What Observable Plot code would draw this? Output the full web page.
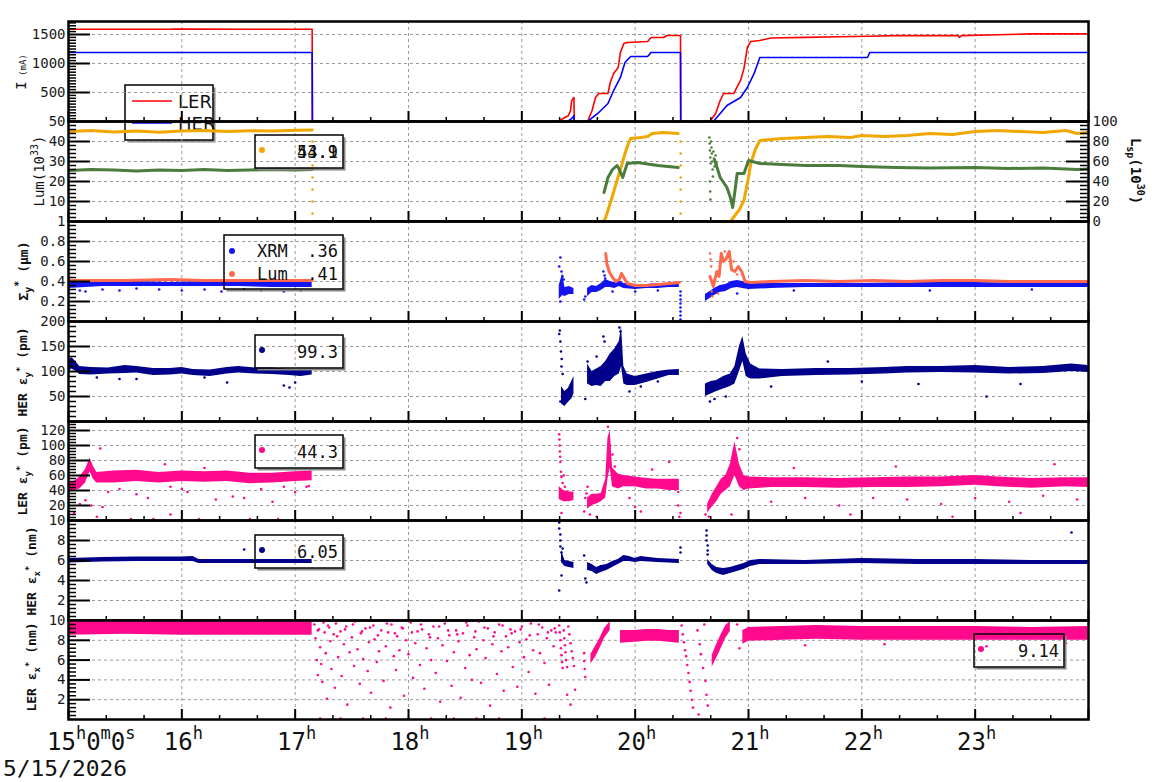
<!DOCTYPE html>
<html><head><meta charset="utf-8">
<script src="https://cdn.jsdelivr.net/npm/d3@7"></script>
<script src="https://cdn.jsdelivr.net/npm/@observablehq/plot@0.6"></script>
<style>
body{margin:0;background:#fff;}
#chart{position:relative;width:1160px;height:782px;overflow:hidden;font-family:"DejaVu Sans Mono",monospace;background:#fff;}
#chart svg{position:absolute;left:0;overflow:visible;}
</style></head><body><div id="chart"></div>
<script>
// ---------- axis ticks ----------
const hourTicks = [15,16,17,18,19,20,21,22,23,24];
const hourLabels = [16,17,18,19,20,21,22,23];
const iTicks = [500,1000,1500];
const lumTicks = [10,20,30,40,50];
const lspTicks = [0,20,40,60,80,100];
const sigTicks = [0.2,0.4,0.6,0.8,1];
const herEyTicks = [50,100,150,200];
const lerEyTicks = [20,40,60,80,100,120];
const exTicks = [2,4,6,8,10];

// ---------- panel 1: beam currents (mA) ----------
const lerCurrent = [[15,1590],[15.9,1590],[15.92,1595],[16.0,1592],[17.15,1590],[17.152,0],[19.32,0],[19.38,70],[19.41,100],[19.43,190],[19.44,360],[19.46,414],[19.462,0],[19.58,0],[19.62,190],[19.65,414],[19.68,483],[19.76,483],[19.78,672],[19.81,828],[19.85,931],[19.87,1190],[19.90,1345],[19.93,1362],[20.11,1380],[20.14,1448],[20.25,1448],[20.28,1483],[20.38,1483],[20.40,1483],[20.402,0],[20.66,0],[20.71,138],[20.75,362],[20.78,483],[20.87,483],[20.93,707],[20.96,914],[20.99,1276],[21.02,1380],[21.1,1397],[21.2,1440],[21.5,1450],[21.8,1460],[22.05,1470],[22.3,1480],[22.85,1480],[22.86,1450],[22.88,1480],[23.2,1495],[23.5,1510],[24,1510]];
const herCurrent = [[15,1190],[17.15,1190],[17.152,0],[19.40,0],[19.44,50],[19.46,100],[19.462,0],[19.58,0],[19.67,138],[19.76,310],[19.81,534],[19.87,759],[19.91,1017],[19.96,1120],[20.11,1120],[20.14,1190],[20.40,1190],[20.402,0],[20.69,0],[20.81,276],[20.93,414],[20.99,586],[21.05,828],[21.1,1103],[22.05,1103],[22.07,1190],[24,1190]];

// ---------- panel 2: luminosity ----------
const lumSegs = [
 [[15,45],[15.2,45.5],[15.4,44.8],[15.6,45.2],[15.8,44.6],[16.0,45.3],[16.2,45.5],[16.4,45],[16.6,45.4],[16.8,45.2],[17.0,45.6],[17.15,45.8]],
 [[17.155,0],[19.72,0],[19.74,2],[19.79,11],[19.84,20.5],[19.88,28],[19.91,34],[19.94,39],[19.96,41.5],[20.05,42],[20.11,42.5],[20.15,44],[20.25,44.5],[20.38,44]],
 [[20.405,0],[20.84,0],[20.86,1.5],[20.92,6],[20.96,10.5],[21.0,22],[21.02,29],[21.06,36],[21.1,40.5],[21.3,41.5],[21.5,42],[21.7,42.5],[21.9,42],[22.0,43],[22.2,42.5],[22.4,43],[22.6,44],[22.8,43.5],[23.0,45],[23.2,45.5],[23.4,45],[23.6,44.5],[23.8,45.5],[23.9,44],[24,44.5]]
];
const lumDrops = [[17.153,40],[17.153,34],[17.153,28],[17.153,22],[17.153,16],[17.153,10],[17.153,4],[20.402,40],[20.402,34],[20.402,28],[20.402,22],[20.402,16],[20.402,10],[20.402,4]];
const lspSegs = [
 [[15,51],[15.2,52],[15.4,51.5],[15.6,50.5],[15.8,51.5],[16.0,51],[16.2,52],[16.4,51],[16.6,51.5],[16.8,52],[17.0,51.5],[17.15,52]],
 [[17.155,0],[19.72,0]],
 [[19.725,29],[19.76,44],[19.80,52],[19.84,56],[19.86,52],[19.89,44],[19.93,58],[20.02,59],[20.2,56],[20.38,54]],
 [[20.405,0],[20.65,0]],
 [[20.70,62],[20.75,44],[20.81,34],[20.84,24],[20.86,14],[20.88,30],[20.90,48],[20.96,48],[21.0,61],[21.1,58],[21.3,57],[21.5,56],[21.8,56],[22.0,55],[22.3,54],[22.6,53.5],[23.0,54],[23.3,53],[23.6,53.5],[23.9,52],[24,52.5]]
];
const lspDots = [[20.655,84],[20.658,78],[20.66,71],[20.663,64],[20.666,58],[20.67,80],[20.673,74],[20.676,68],[20.68,60],[20.683,52],[20.686,45],[20.69,70],[20.695,63],[20.70,55],[20.66,40],[20.662,30],[20.664,22],[20.71,66],[20.72,58]];

// ---------- panel 3: vertical beam size ----------
const sigLumSegs = [
 [[15,0.41],[15.5,0.41],[15.9,0.42],[16.2,0.41],[16.6,0.41],[17.15,0.41]],
 [[19.74,0.68],[19.75,0.58],[19.77,0.50],[19.80,0.44],[19.83,0.40],[19.86,0.42],[19.88,0.48],[19.90,0.44],[19.93,0.38],[20.0,0.36],[20.1,0.36],[20.2,0.37],[20.3,0.38],[20.39,0.39]],
 [[20.66,0.45],[20.69,0.35],[20.72,0.50],[20.74,0.45],[20.76,0.68],[20.78,0.60],[20.80,0.62],[20.83,0.70],[20.85,0.52],[20.88,0.50],[20.91,0.55],[20.94,0.50],[20.97,0.40],[21.02,0.39],[21.2,0.40],[21.5,0.41],[21.8,0.40],[22.1,0.41],[22.4,0.40],[22.7,0.41],[23.0,0.41],[23.3,0.40],[23.6,0.40],[24,0.40]]
];
const sigLumDots = [[20.66,0.68],[20.665,0.62],[20.67,0.55],[20.675,0.30],[20.68,0.25],[20.70,0.42],[20.73,0.28],[20.75,0.58],[20.79,0.70],[20.82,0.66],[20.87,0.60],[20.90,0.47],[17.15,0.0],[20.40,0.0]];
const xrmBand = [
 [[15.0,0.33,0.39],[15.3,0.35,0.39],[15.6,0.35,0.40],[15.9,0.35,0.39],[16.2,0.35,0.40],[16.5,0.35,0.39],[16.8,0.34,0.39],[17.15,0.34,0.39]],
 [[19.33,0.22,0.36],[19.36,0.26,0.48],[19.38,0.25,0.34],[19.42,0.27,0.35],[19.46,0.27,0.33]],
 [[19.58,0.25,0.33],[19.62,0.29,0.36],[19.66,0.29,0.35],[19.70,0.31,0.38],[19.74,0.34,0.42],[19.78,0.34,0.40],[19.82,0.33,0.39],[19.86,0.35,0.41],[19.90,0.33,0.38],[20.0,0.32,0.37],[20.1,0.33,0.37],[20.2,0.33,0.38],[20.3,0.34,0.38],[20.39,0.34,0.38]],
 [[20.62,0.20,0.27],[20.66,0.23,0.30],[20.70,0.26,0.33],[20.75,0.29,0.36],[20.80,0.30,0.37],[20.85,0.33,0.40],[20.90,0.34,0.41],[20.95,0.33,0.40],[21.0,0.32,0.38],[21.2,0.33,0.38],[21.5,0.34,0.38],[22.0,0.34,0.38],[22.5,0.34,0.39],[23.0,0.34,0.39],[23.5,0.34,0.38],[24,0.34,0.38]]
];
const xrmDots = [[15.1,0.31],[15.15,0.30],[15.3,0.32],[15.45,0.31],[15.6,0.33],[15.8,0.32],[16.0,0.31],[16.2,0.32],[16.35,0.30],[16.55,0.32],[16.7,0.31],[16.9,0.30],[17.05,0.31],[15.0,0.30],[19.33,0.55],[19.34,0.64],[19.35,0.50],[19.36,0.45],[19.37,0.42],[19.34,0.2],[19.55,0.22],[19.56,0.25],[19.72,0.50],[19.73,0.46],[19.735,0.43],[19.80,0.30],[20.0,0.30],[20.2,0.31],[20.40,0.30],[20.40,0.26],[20.40,0.22],[20.40,0.18],[20.40,0.14],[20.40,0.10],[20.40,0.06],[20.40,0.02],[20.9,0.28],[21.4,0.31],[22.6,0.31],[23.5,0.32]];

// ---------- panel 4: HER vertical emittance (pm) ----------
const herEyBand = [
 [[15.0,100,122],[15.03,105,128],[15.07,100,118],[15.1,94,110],[15.2,93,108],[15.35,95,107],[15.5,96,112],[15.6,97,110],[15.75,92,106],[15.9,93,106],[16.0,95,108],[16.1,92,104],[16.25,90,103],[16.4,95,108],[16.5,97,110],[16.65,95,107],[16.8,94,107],[16.95,92,104],[17.05,90,103],[17.15,93,103]],
 [[19.35,35,70],[19.38,30,60],[19.41,38,66],[19.44,45,80],[19.46,55,90]],
 [[19.58,75,115],[19.62,70,100],[19.66,72,105],[19.70,70,110],[19.74,80,120],[19.78,80,135],[19.82,90,145],[19.86,95,160],[19.88,110,190],[19.90,75,110],[19.93,72,95],[20.0,72,90],[20.1,78,95],[20.2,85,100],[20.3,92,103],[20.39,92,104]],
 [[20.62,50,75],[20.67,55,80],[20.72,60,82],[20.78,65,90],[20.84,70,95],[20.88,75,110],[20.92,100,150],[20.95,120,170],[20.98,90,135],[21.02,85,115],[21.1,85,105],[21.3,90,104],[21.6,92,106],[21.9,93,106],[22.2,95,108],[22.4,97,110],[22.7,98,110],[23.0,97,112],[23.3,95,108],[23.6,96,110],[23.85,100,115],[24,98,112]]
];
const herEyDots = [[15.6,85],[16.4,78],[16.9,72],[16.95,68],[17.0,78],[15.45,85],[16.2,88],[15.25,88],[19.33,175],[19.335,182],[19.34,160],[19.345,140],[19.35,110],[19.352,125],[19.36,95],[19.34,40],[19.56,45],[19.58,120],[19.72,170],[19.73,160],[19.86,188],[19.87,180],[19.66,130],[19.95,60],[20.05,70],[20.2,80],[21.2,70],[22.0,80],[22.5,75],[23.1,50],[23.4,75],[21.7,120],[20.66,40],[20.7,45],[20.8,50]];

// ---------- panel 5: LER vertical emittance (pm) ----------
const lerEyBand = [
 [[15.0,38,50],[15.05,40,52],[15.1,42,58],[15.15,50,68],[15.19,65,83],[15.22,55,72],[15.25,50,64],[15.4,50,66],[15.6,52,67],[15.8,50,64],[16.0,52,66],[16.2,51,65],[16.4,52,66],[16.6,49,63],[16.8,50,63],[17.0,52,65],[17.15,53,66]],
 [[19.33,28,45],[19.37,25,40],[19.42,25,38],[19.46,27,38]],
 [[19.58,15,30],[19.62,20,35],[19.66,22,35],[19.70,25,36],[19.74,30,55],[19.76,55,110],[19.78,70,120],[19.80,45,70],[19.85,42,62],[19.90,45,60],[20.0,45,58],[20.1,42,56],[20.2,42,55],[20.3,40,55],[20.39,40,55]],
 [[20.64,10,22],[20.68,18,35],[20.72,25,45],[20.76,35,55],[20.80,40,60],[20.84,45,75],[20.88,60,105],[20.92,45,75],[20.96,40,60],[21.0,42,58],[21.2,44,57],[21.5,44,57],[21.8,43,56],[22.1,44,57],[22.4,44,58],[22.7,45,58],[23.0,47,60],[23.2,45,58],[23.5,43,56],[23.8,45,57],[24,44,57]]
];
const lerEyDots = [[15.05,10],[15.1,22],[15.15,27],[15.2,20],[15.28,96],[15.3,18],[15.25,5],[15.35,38],[15.45,42],[15.6,35],[15.7,30],[15.85,75],[15.9,45],[16.0,42],[16.05,38],[16.2,70],[16.3,28],[16.45,32],[16.55,30],[16.7,42],[16.8,25],[16.9,45],[17.0,38],[17.1,45],[17.12,46],[15.55,2],[15.75,2],[16.15,2],[16.6,2],[16.85,2],[17.0,2],[15.9,8],
 [19.33,115],[19.332,108],[19.334,100],[19.336,92],[19.338,85],[19.34,78],[19.345,65],[19.35,58],[19.36,50],[19.37,60],[19.38,45],[19.35,10],[19.55,12],[19.56,30],[19.57,36],[19.58,45],[19.60,8],[19.66,5],[19.76,125],[19.78,100],[19.80,88],[19.82,72],[19.83,60],[19.95,30],[20.0,18],[20.05,12],[20.15,68],[20.3,78],[20.38,38],[20.38,20],[20.40,10],[20.39,5],
 [20.62,8],[20.65,5],[20.90,110],[20.92,95],[20.85,8],[21.2,25],[21.5,30],[21.8,20],[22.1,30],[22.4,28],[22.7,22],[23.0,30],[23.3,25],[23.6,33],[23.9,28],[21.4,70],[22.3,72],[23.7,75],[21.9,8],[22.8,5],[23.4,10]];

// ---------- panel 6: HER horizontal emittance (nm) ----------
const herExBand = [
 [[15,5.75,6.2],[15.3,5.85,6.3],[15.6,5.9,6.35],[16.0,5.9,6.35],[16.1,5.9,6.4],[16.15,5.7,6.1],[16.5,5.7,6.1],[17.15,5.7,6.1]],
 [[19.35,5.8,7.0],[19.38,5.4,6.0],[19.42,5.3,5.9],[19.46,5.2,5.8]],
 [[19.58,5.0,5.8],[19.62,4.9,5.6],[19.66,4.6,5.3],[19.70,4.8,5.5],[19.75,5.0,5.6],[19.80,5.3,5.9],[19.85,5.6,6.1],[19.90,5.9,6.5],[19.95,5.9,6.4],[20.0,5.8,6.2],[20.05,5.9,6.4],[20.2,5.8,6.2],[20.39,5.7,6.1]],
 [[20.64,5.6,6.1],[20.68,5.0,5.6],[20.72,4.7,5.3],[20.78,4.5,5.2],[20.84,4.7,5.3],[20.9,4.9,5.5],[20.96,5.1,5.7],[21.02,5.4,6.0],[21.1,5.6,6.1],[21.5,5.6,6.0],[22.0,5.7,6.2],[22.5,5.6,6.1],[23.0,5.6,6.1],[23.5,5.6,6.0],[24,5.6,6.0]]
];
const herExDots = [[19.33,9.8],[19.33,9.2],[19.34,8.6],[19.34,8.0],[19.34,7.4],[19.35,6.8],[19.36,7.2],[19.35,4.5],[19.33,3.0],[19.55,6.5],[19.56,4.2],[19.57,3.8],[20.40,6.8],[20.40,7.3],[20.63,9.0],[20.63,8.5],[20.63,8.0],[20.64,7.5],[20.64,7.0],[20.64,6.6],[16.55,7.1],[23.85,8.8]];

// ---------- panel 7: LER horizontal emittance (nm) ----------
const lerExBand = [
 [[15,8.5,9.9],[15.5,8.6,9.9],[16,8.5,9.9],[16.5,8.5,9.85],[17.15,8.5,9.85]],
 [[19.61,5.6,6.6],[19.65,6.3,7.4],[19.69,7.2,8.2],[19.73,8.2,9.2],[19.78,9.0,9.9]],
 [[19.87,7.7,9.0],[20.0,7.8,9.0],[20.1,7.9,9.1],[20.2,7.9,9.1],[20.3,7.8,9.0],[20.39,7.7,9.0]],
 [[20.68,5.3,6.5],[20.72,6.2,7.6],[20.76,7.2,8.6],[20.80,8.2,9.5],[20.84,8.9,9.9]],
 [[20.95,7.6,9.0],[21.0,7.9,9.3],[21.3,8.0,9.4],[21.6,8.1,9.5],[22.0,8.0,9.4],[22.5,8.0,9.4],[23.0,8.0,9.4],[23.5,8.0,9.3],[24,8.0,9.4]]
];
const lerExDots = [[17.17,9.6],[17.18,8.2],[17.19,6.0],[17.2,4.5],[17.21,9.1],[17.22,7.3],[17.23,5.6],[17.24,3.8],[17.25,9.8],[17.26,8.8],[17.27,6.7],[17.28,2.1],[17.3,9.3],[17.31,7.9],[17.32,5.1],[17.34,8.6],[17.35,3.2],[17.36,9.7],[17.38,6.3],[17.4,8.9],[17.41,4.4],[17.43,7.6],[17.45,9.4],[17.46,1.5],[17.48,6.8],[17.5,8.3],[17.52,5.4],[17.53,9.9],[17.55,7.1],[17.57,3.6],[17.58,8.7],[17.6,6.1],[17.62,9.2],[17.64,4.9],[17.65,7.8],[17.67,2.7],[17.69,9.5],[17.7,8.1],[17.72,5.8],[17.74,6.9],[17.76,9.0],[17.78,3.9],[17.8,7.4],[17.82,8.8],[17.84,1.2],[17.85,9.6],[17.87,6.4],[17.89,5.0],[17.9,8.4],[17.92,7.0],[17.94,9.3],[17.96,2.4],[17.98,8.0],[18.0,6.6],[18.02,9.8],[18.04,4.2],[18.06,7.7],[18.08,8.9],[18.1,5.5],[18.12,9.1],[18.14,3.1],[18.16,7.2],[18.18,8.6],[18.2,6.0],[18.22,9.4],[18.24,4.7],[18.26,8.2],[18.28,1.8],[18.3,7.5],[18.32,9.7],[18.34,5.9],[18.36,8.5],[18.38,3.4],[18.4,6.8],[18.42,9.0],[18.44,7.9],[18.46,2.2],[18.48,8.7],[18.5,5.2],[18.52,9.5],[18.54,6.5],[18.56,4.0],[18.58,8.3],[18.6,7.1],[18.62,9.9],[18.64,3.7],[18.66,8.0],[18.68,6.2],[18.7,9.2],[18.72,1.4],[18.74,7.6],[18.76,8.8],[18.78,4.6],[18.8,9.6],[18.82,6.9],[18.84,2.9],[18.86,8.4],[18.88,7.3],[18.9,9.1],[18.92,5.3],[18.94,8.9],[18.96,3.3],[18.98,7.8],[19.0,9.4],[19.02,6.3],[19.04,8.1],[19.06,4.8],[19.08,9.7],[19.1,7.0],[19.12,2.6],[19.14,8.6],[19.16,6.7],[19.18,9.3],[19.2,5.7],[19.22,8.2],[19.24,3.5],[19.26,9.0],[19.28,7.4],[19.3,8.8],
 [17.2,9.0],[17.29,9.5],[17.37,8.4],[17.44,9.1],[17.51,9.6],[17.59,8.9],[17.66,9.3],[17.73,8.5],[17.81,9.7],[17.88,8.7],[17.95,9.2],[18.03,8.8],[18.11,9.6],[18.19,8.3],[18.27,9.4],[18.35,9.0],[18.43,8.6],[18.51,9.8],[18.59,8.9],[18.67,9.3],[18.75,8.4],[18.83,9.5],[18.91,8.7],[18.99,9.1],[19.07,8.5],[19.15,9.6],[19.23,8.8],[19.29,9.2],
 [17.22,0.1],[17.4,0.1],[17.6,0.1],[17.8,0.1],[18.0,0.1],[18.2,0.1],[18.4,0.1],[18.6,0.1],[18.8,0.1],[19.0,0.1],[19.2,0.1],
 [19.33,9.5],[19.335,8.8],[19.34,8.0],[19.345,7.2],[19.35,6.5],[19.355,5.8],[19.36,5.2],[19.37,9.0],[19.375,8.2],[19.38,7.5],[19.385,6.8],[19.39,6.0],[19.4,5.3],[19.41,9.4],[19.42,8.6],[19.43,7.7],[19.44,6.9],[19.45,6.2],[19.46,5.4],[19.40,2.5],[19.43,1.5],[19.47,3.0],[19.55,6.7],[19.55,5.9],[19.555,5.1],[19.56,4.3],
 [20.41,9.5],[20.42,8.6],[20.43,7.8],[20.44,7.0],[20.45,6.4],[20.46,5.5],[20.47,4.7],[20.48,3.8],[20.49,2.9],[20.5,2.0],[20.51,1.2],[20.55,9.0],[20.57,7.6],[20.58,6.6],[20.6,5.2],[20.62,3.9],[20.63,2.5],[20.64,1.4],[20.56,0.5],[20.61,9.6],[20.9,9.6],[20.92,7.2],[21.5,7.5],[22.2,7.6],[23.1,7.4],[23.8,7.7]];

// ---------- legend values ----------
const legendI = ["LER","HER"];
const legendLum = ["53.9","44.1"];
const legendSig = [["XRM",".36"],["Lum",".41"]];
const legendHerEy = "99.3", legendLerEy = "44.3", legendHerEx = "6.05", legendLerEx = "9.14";

// ---------- colours ----------
const C = {red:"#ff0000", blue:"#0000ff", yellow:"#f0a800", green:"#4a7d3c", tomato:"#ff6a4d", xrm:"#1414f0", navy:"#00008a", pink:"#ff0a8c"};

// ---------- helpers ----------
const W = 1020;
function segRows(segs){const out=[];segs.forEach((s,i)=>s.forEach(r=>out.push({seg:i,h:r[0],a:r[1],b:r[2]})));return out;}
function bandMarks(segs,color){return [Plot.areaY(segRows(segs),{x:"h",y1:"a",y2:"b",z:"seg",fill:color,clip:true})];}
function lineMarks(segs,color,sw,f){return Plot.line(segRows(segs),{x:"h",y:f?(d=>f(d.a)):"a",z:"seg",stroke:color,strokeWidth:sw,clip:true});}
function dotMarks(arr,color,f){return Plot.dot(arr,{x:d=>d[0],y:f?(d=>f(d[1])):(d=>d[1]),r:1.3,fill:color,clip:true});}
function minorOf(max,step,majorStep){const out=[];for(let i=0;i*step<=max+1e-9;i++){const v=+(i*step).toFixed(4);if(Math.abs(v/majorStep-Math.round(v/majorStep))>1e-6)out.push(v);}return out;}
function minorX(){const out=[];for(let i=0;i<=27;i++){if(i%3)out.push(15+i/3);}return out;}

const chart = document.getElementById("chart");
const under = d3.select(chart).append("svg").attr("width",1160).attr("height",782).style("top","0px");

function panel(cfg){
  const h = cfg.bottom-cfg.top;
  const marks = [
    Plot.gridY(cfg.grid,{stroke:"#9a9a9a",strokeOpacity:1,strokeDasharray:"3,3"}),
    Plot.gridX(hourLabels,{stroke:"#9a9a9a",strokeOpacity:1,strokeDasharray:"3,3"}),
    ...cfg.marks,
    Plot.tickY(cfg.major,{y:d=>d,insetRight:W-22,stroke:"black",strokeWidth:2}),
    Plot.tickY(cfg.minor,{y:d=>d,insetRight:W-8,stroke:"black",strokeWidth:1.5}),
    Plot.tickX(hourTicks,{x:d=>d,insetTop:h-10,stroke:"black",strokeWidth:2}),
    Plot.tickX(minorX(),{x:d=>d,insetTop:h-4,stroke:"black",strokeWidth:1.5}),
    ...(cfg.extra||[]),
    Plot.frame({stroke:"black",strokeWidth:2.5}),
    Plot.axisY(cfg.labels,{tickSize:0,tickPadding:3,fontSize:14,fontFamily:"DejaVu Sans Mono",fill:"#1a1a1a",tickFormat:cfg.fmt,label:null})
  ];
  const p = Plot.plot({width:1160,height:h,marginLeft:68,marginRight:72,marginTop:0,marginBottom:0,
    x:{domain:[15,24],axis:null},y:{domain:cfg.domain,axis:null},
    style:{background:"none",overflow:"visible",fontFamily:"DejaVu Sans Mono"},marks});
  p.style.top = cfg.top+"px";
  chart.appendChild(p);
  return p;
}

const fmtInt = d=>String(d);
panel({top:21,bottom:121,domain:[0,1724],grid:iTicks,major:iTicks,minor:minorOf(1700,50,500),labels:iTicks,fmt:fmtInt,
  marks:[Plot.line(lerCurrent,{x:d=>d[0],y:d=>d[1],stroke:C.red,strokeWidth:1.6,clip:true}),
         Plot.line(herCurrent,{x:d=>d[0],y:d=>d[1],stroke:C.blue,strokeWidth:1.6,clip:true})]});
const lsp = v=>v/2;
panel({top:121,bottom:221,domain:[0,50],grid:[10,20,30,40],major:[10,20,30,40],minor:minorOf(50,2,10),labels:lumTicks,fmt:fmtInt,
  marks:[lineMarks(lumSegs,C.yellow,3),dotMarks(lumDrops,C.yellow),lineMarks(lspSegs,C.green,3,lsp),dotMarks(lspDots,C.green,lsp)],
  extra:[Plot.tickY(lspTicks.map(lsp),{y:d=>d,insetLeft:W-22,stroke:"black",strokeWidth:2}),
         Plot.tickY(minorOf(100,4,20).map(lsp),{y:d=>d,insetLeft:W-8,stroke:"black",strokeWidth:1.5}),
         Plot.axisY(lspTicks.map(lsp),{anchor:"right",tickSize:0,tickPadding:4,fontSize:14,fontFamily:"DejaVu Sans Mono",fill:"#1a1a1a",tickFormat:d=>String(Math.round(d*2)),label:null})]});
panel({top:221,bottom:321,domain:[0,1],grid:[0.2,0.4,0.6,0.8],major:[0.2,0.4,0.6,0.8],minor:minorOf(1,0.04,0.2),labels:sigTicks,fmt:d=>d===1?"1":d.toFixed(1),
  marks:[...bandMarks(xrmBand,C.xrm),dotMarks(xrmDots,C.xrm),lineMarks(sigLumSegs,C.tomato,3),dotMarks(sigLumDots,C.tomato)]});
panel({top:321,bottom:421,domain:[0,200],grid:[50,100,150],major:[50,100,150],minor:minorOf(200,10,50),labels:herEyTicks,fmt:fmtInt,
  marks:[...bandMarks(herEyBand,C.navy),dotMarks(herEyDots,C.navy)]});
panel({top:421,bottom:520,domain:[0,132],grid:[20,40,60,80,100,120],major:[20,40,60,80,100,120],minor:minorOf(132,4,20),labels:lerEyTicks,fmt:fmtInt,
  marks:[...bandMarks(lerEyBand,C.pink),dotMarks(lerEyDots,C.pink)]});
panel({top:520,bottom:620,domain:[0,10],grid:[2,4,6,8],major:[2,4,6,8],minor:minorOf(10,0.4,2),labels:exTicks,fmt:fmtInt,
  marks:[...bandMarks(herExBand,C.navy),dotMarks(herExDots,C.navy)]});
const last = panel({top:620,bottom:719,domain:[0,10],grid:[2,4,6,8],major:[2,4,6,8],minor:minorOf(10,0.4,2),labels:exTicks,fmt:fmtInt,
  marks:[...bandMarks(lerExBand,C.pink),dotMarks(lerExDots,C.pink)]});

// ---------- overlay: labels & legends ----------
const ov = d3.select(chart).append("svg").attr("width",1160).attr("height",782).style("top","0px").style("pointer-events","none")
  .attr("font-family","DejaVu Sans Mono").attr("fill","#111");

function richText(sel,parts){let cur=0;parts.forEach(([t,size,shift])=>{const ts=sel.append("tspan").text(t).attr("font-size",size);const dy=(shift||0)-cur;if(dy)ts.attr("dy",dy);cur=shift||0;});}
function vlabel(x,y,parts,bold,rot){const t=ov.append("text").attr("transform",`translate(${x},${y}) rotate(${rot||-90})`).attr("text-anchor","middle").attr("font-weight",bold?"bold":"normal");richText(t,parts);}
vlabel(26,72,[["I",14],[" (mA)",9]]);
vlabel(44,171,[["Lum(10",14],["33",10,-6],[")",14]]);
vlabel(28,271,[["Σ",13],["y",10,4],["*",10,-6],[" (μm)",13]],true);
vlabel(27,372,[["HER ε",13],["y",9,4],["*",9,-4],[" (pm)",13]],true);
vlabel(27,471,[["LER ε",13],["y",9,4],["*",9,-4],[" (pm)",13]],true);
vlabel(36,571,[["HER ε",13],["x",9,4],["*",9,-4],[" (nm)",13]],true);
vlabel(36,667,[["LER ε",13],["x",9,4],["*",9,-4],[" (nm)",13]],true);
vlabel(1131,171,[["L",14],["sp",10,4],["(10",14],["30",10,-6],[")",14]],true,90);

// x axis labels
const xs = last.scale("x");
const first = ov.append("text").attr("x",47).attr("y",750).attr("font-size",24);
richText(first,[["15",24],["h",17,-11],["0",24],["m",17,-11],["0",24],["s",17,-11]]);
hourLabels.forEach(hh=>{const t=ov.append("text").attr("x",xs.apply(hh)+2).attr("y",750).attr("text-anchor","middle");richText(t,[[String(hh),24],["h",17,-11]]);});
ov.append("text").attr("x",3).attr("y",776).attr("font-size",21).attr("textLength",124).attr("lengthAdjust","spacingAndGlyphs").text("5/15/2026");

function box(sel,x,y,w,h){
  sel.append("path").attr("d",`M${x+w+1.5},${y+2.5}V${y+h+1.5}H${x+2.5}`).attr("fill","none").attr("stroke","#888").attr("stroke-width",2);
  sel.append("rect").attr("x",x).attr("y",y).attr("width",w).attr("height",h).attr("fill","none").attr("stroke","black").attr("stroke-width",1.5);
}
// panel 1 legend (under the following panels)
box(under,125,85,88,55);
under.append("line").attr("x1",132).attr("x2",172).attr("y1",101).attr("y2",101).attr("stroke",C.red).attr("stroke-width",1.5);
under.append("line").attr("x1",132).attr("x2",172).attr("y1",123).attr("y2",123).attr("stroke",C.blue).attr("stroke-width",1.5);
under.append("text").attr("x",178).attr("y",108).attr("font-family","DejaVu Sans").attr("font-size",18).attr("fill","#111").text(legendI[0]);
under.append("text").attr("x",178).attr("y",130).attr("font-family","DejaVu Sans").attr("font-size",18).attr("fill","#111").text(legendI[1]);
d3.select(chart).node().insertBefore(under.node(), chart.firstChild.nextSibling);

function valLegend(x,y,w,color,vals){
  box(ov,x,y,w,33);
  ov.append("circle").attr("cx",x+7).attr("cy",y+15).attr("r",3).attr("fill",color);
  vals.forEach(v=>ov.append("text").attr("x",x+w-5).attr("y",y+23).attr("text-anchor","end").attr("font-size",17).text(v));
}
valLegend(255,135,88,C.yellow,legendLum);
box(ov,224,235,119,54);
ov.append("circle").attr("cx",232).attr("cy",251).attr("r",3).attr("fill",C.xrm);
ov.append("circle").attr("cx",232).attr("cy",274).attr("r",3).attr("fill",C.tomato);
legendSig.forEach(([n,v],i)=>{ov.append("text").attr("x",257).attr("y",257+i*23).attr("font-size",17).text(n);ov.append("text").attr("x",338).attr("y",257+i*23).attr("text-anchor","end").attr("font-size",17).text(v);});
valLegend(255,335,88,C.navy,[legendHerEy]);
valLegend(255,435,88,C.pink,[legendLerEy]);
valLegend(255,535,88,C.navy,[legendHerEx]);
valLegend(974,634,90,C.pink,[legendLerEx]);
</script></body></html>
